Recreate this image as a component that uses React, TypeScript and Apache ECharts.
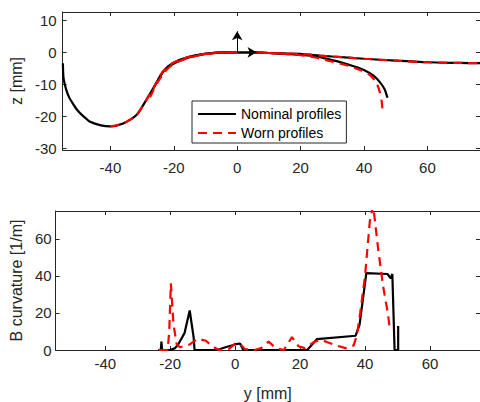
import React, { useEffect, useRef } from "react";
import * as echarts from "echarts";

// ---- Top plot: profiles (y [mm], z [mm]) ----
const wheelNomY = [-55, -54.8, -54, -53.1, -51.8, -50.5, -48.5, -46.4, -43, -40, -36, -31.8, -28.7, -25.6, -23.5, -20.4, -15.2, -9, -4, 0, 5, 10, 20, 26, 30, 40, 50, 60, 70, 77];
const wheelNomZ = [-3.4, -8, -11.5, -13.9, -16.1, -18, -20, -21.7, -22.8, -23.1, -22.2, -19.6, -14.9, -9.7, -6.1, -3.4, -1.4, -0.3, 0, 0, 0, -0.2, -0.5, -1, -1.3, -2, -2.6, -3.1, -3.3, -3.4];

const railNomY = [-26.2, -25.6, -23.5, -21.5, -19, -15, -10, -5, 0, 5, 10, 15, 20, 25, 29, 33, 37, 40, 43, 45, 46.5, 47.4];
const railNomZ = [-10.8, -9.7, -6.3, -4.4, -3, -1.5, -0.5, -0.1, 0, -0.05, -0.2, -0.45, -0.8, -1.3, -2.2, -3.2, -4.4, -5.5, -7.3, -9.3, -11.5, -14.2];

const wheelWornY = [-40, -36, -31.8, -28.7, -25.6, -23.5, -20.4, -15.2, -9, -4, 0, 5, 10, 20, 26, 30, 40, 50, 60, 70, 77];
const wheelWornZ = [-23.1, -22.2, -19.6, -14.9, -9.7, -6.1, -3.4, -1.4, -0.3, 0, 0, 0, -0.2, -0.5, -1, -1.3, -2, -2.6, -3.1, -3.3, -3.4];

const railWornY = [-27.5, -26.5, -25, -23, -21, -18, -14, -10, -5, 0, 5, 10, 15, 20, 25, 30, 35, 39, 42, 44, 45, 45.6, 45.9];
const railWornZ = [-14, -12, -9.2, -6.2, -4.3, -2.6, -1.4, -0.6, -0.1, 0, -0.05, -0.2, -0.5, -0.9, -1.7, -2.9, -4.2, -5.6, -7.2, -9.7, -12.5, -15.5, -18.8];

// reference frame arrows (tip lengths in mm)
const arrowUpTip = 6.6;
const arrowRightTip = 6.1;

// ---- Bottom plot: curvature ----
const curvNomY = [-23.7, -22.9, -22.7, -22.5, -20, -18.5, -17.6, -15.6, -14, -12.8, -12.5, -5.5, -3, 0, 1.5, 2.5, 22.2, 25.2, 37.1, 38.3, 40.4, 46.9, 47.9, 48.4, 49.1, 49.8, 50.2, 50.2];
const curvNomK = [0, 0, 4.5, 0, 0, 1, 2.8, 9.1, 21.3, 7, 0, 0, 1.5, 3, 3.5, 0, 0, 5.9, 7.7, 13.6, 41.5, 41, 38.7, 41, 0, 0, 0, 13];

const curvWornY = [-23.5, -20.8, -20.3, -19.8, -19, -18, -17, -14, -11.5, -9, -7, -5, -2, 0, 1.5, 3, 6, 8, 10.3, 12.5, 15, 17.5, 19.5, 21.5, 24, 26, 28, 31, 34, 36.5, 37.5, 38.5, 40, 41.5, 42.5, 44, 45.5, 47, 47.6];
const curvWornK = [0, 0, 10, 36, 14, 3, 1.5, 3, 6, 5, 2, 0, 0.5, 3.4, 3.3, 0.5, 0, 1, 4.5, 1, 0, 7, 2, 1, 4, 5.5, 4.5, 2.5, 1, 2.5, 8, 20, 40, 70, 78, 55, 35, 20, 12];

const xTicksTop = { min: -55.1, max: 76.6 };
const zRange = { min: -30.5, max: 12.6 };
const xTicksBottom = { min: -55.3, max: 75.4 };
const kRange = { min: 0, max: 75, interval: 20 };

const NOMINAL = "Nominal profiles";
const WORN = "Worn profiles";

const zip = (a: number[], b: number[]) => a.map((v, i) => [v, b[i]]);

export default function App() {
  const ref = useRef<HTMLDivElement>(null);
  useEffect(() => {
    if (!ref.current) return;
    const chart = echarts.init(ref.current, null, { renderer: "svg" });
    const axisColor = "#262626";
    const font = "'Liberation Sans', Arial, Helvetica, sans-serif";
    const lineAxis = { show: true, onZero: false, lineStyle: { color: axisColor, width: 1 } };
    const tick = { show: true, inside: true, length: 4, lineStyle: { color: axisColor, width: 1 } };
    const lbl = (margin: number, extra: any = {}) => ({
      show: true,
      color: axisColor,
      fontSize: 15,
      fontFamily: font,
      margin,
      showMinLabel: false,
      showMaxLabel: false,
      ...extra,
    });
    const nameStyle = { color: axisColor, fontSize: 16, fontFamily: font };
    const blackLine = { color: "#000", width: 2.2 };
    const redLine = { color: "#ff0000", width: 2.2, type: [9, 6] };

    const option: any = {
      animation: false,
      textStyle: { fontFamily: font },
      grid: [
        { left: 59, top: 12, width: 422, height: 138 },
        { left: 52, top: 211, width: 432, height: 139 },
      ],
      legend: {
        data: [NOMINAL, WORN],
        orient: "vertical",
        left: 192,
        top: 101,
        itemWidth: 38,
        itemHeight: 14,
        itemGap: 5,
        padding: [6, 5, 3, 5],
        borderColor: axisColor,
        borderWidth: 1,
        borderRadius: 0,
        backgroundColor: "#fff",
        itemStyle: { opacity: 0 },
        textStyle: { color: "#000", fontSize: 14, fontFamily: font },
      },
      xAxis: [
        {
          gridIndex: 0, type: "value", position: "bottom", ...xTicksTop, splitNumber: 7,
          axisLine: lineAxis, axisTick: tick, axisLabel: lbl(10), splitLine: { show: false },
        },
        {
          gridIndex: 0, type: "value", position: "top", ...xTicksTop, splitNumber: 7,
          axisLine: lineAxis, axisTick: tick, axisLabel: { show: false }, splitLine: { show: false },
        },
        {
          gridIndex: 1, type: "value", position: "bottom", ...xTicksBottom, splitNumber: 7,
          axisLine: lineAxis, axisTick: tick, axisLabel: lbl(6), splitLine: { show: false },
          name: "y [mm]", nameLocation: "middle", nameGap: 35, nameTextStyle: nameStyle,
        },
        {
          gridIndex: 1, type: "value", position: "top", ...xTicksBottom, splitNumber: 7,
          axisLine: lineAxis, axisTick: tick, axisLabel: { show: false }, splitLine: { show: false },
        },
      ],
      yAxis: [
        {
          gridIndex: 0, type: "value", position: "left", ...zRange, splitNumber: 5,
          axisLine: lineAxis, axisTick: tick, axisLabel: lbl(6), splitLine: { show: false },
          name: "z [mm]", nameLocation: "middle", nameGap: 33, nameTextStyle: nameStyle,
        },
        {
          gridIndex: 0, type: "value", position: "right", ...zRange, splitNumber: 5,
          axisLine: lineAxis, axisTick: tick, axisLabel: { show: false }, splitLine: { show: false },
        },
        {
          gridIndex: 1, type: "value", position: "left", ...kRange,
          axisLine: lineAxis, axisTick: tick, axisLabel: lbl(4, { showMinLabel: true }), splitLine: { show: false },
          name: "B curvature [1/m]", nameLocation: "middle", nameGap: 28, nameTextStyle: nameStyle,
        },
        {
          gridIndex: 1, type: "value", position: "right", ...kRange,
          axisLine: lineAxis, axisTick: tick, axisLabel: { show: false }, splitLine: { show: false },
        },
      ],
      series: [
        {
          name: NOMINAL, type: "line", xAxisIndex: 0, yAxisIndex: 0, symbol: "none", smooth: 0.25,
          lineStyle: blackLine, itemStyle: { color: "#000" },
          data: zip(wheelNomY, wheelNomZ),
          markLine: {
            silent: true,
            symbol: ["none", "arrow"],
            symbolSize: [8, 9],
            label: { show: false },
            lineStyle: { color: "#000", width: 1, type: "solid" },
            data: [
              [{ coord: [0, 0] }, { coord: [0, arrowUpTip] }],
              [{ coord: [0, 0] }, { coord: [arrowRightTip, 0] }],
            ],
          },
        },
        {
          name: NOMINAL, type: "line", xAxisIndex: 0, yAxisIndex: 0, symbol: "none", smooth: 0.25,
          lineStyle: blackLine, itemStyle: { color: "#000" },
          data: zip(railNomY, railNomZ),
        },
        {
          name: WORN, type: "line", xAxisIndex: 0, yAxisIndex: 0, symbol: "none", smooth: 0.25,
          lineStyle: redLine, itemStyle: { color: "#ff0000" },
          data: zip(wheelWornY, wheelWornZ),
        },
        {
          name: WORN, type: "line", xAxisIndex: 0, yAxisIndex: 0, symbol: "none", smooth: 0.25,
          lineStyle: redLine, itemStyle: { color: "#ff0000" },
          data: zip(railWornY, railWornZ),
        },
        {
          name: NOMINAL, type: "line", xAxisIndex: 2, yAxisIndex: 2, symbol: "none",
          lineStyle: blackLine, itemStyle: { color: "#000" },
          data: zip(curvNomY, curvNomK),
        },
        {
          name: WORN, type: "line", xAxisIndex: 2, yAxisIndex: 2, symbol: "none",
          lineStyle: redLine, itemStyle: { color: "#ff0000" },
          data: zip(curvWornY, curvWornK),
        },
      ],
    };
    chart.setOption(option);
    return () => chart.dispose();
  }, []);
  return (
    <div
      ref={ref}
      style={{ position: "fixed", left: 0, top: 0, width: 480, height: 402, background: "#fff" }}
    />
  );
}
